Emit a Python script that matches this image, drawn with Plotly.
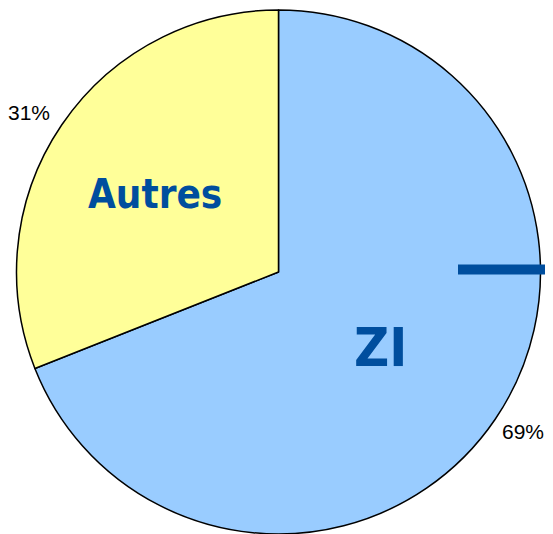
import math
import plotly.graph_objects as go

categories = ["ZI", "Autres"]
values = [69, 31]
colors = ["#99CCFF", "#FFFF99"]

W, H = 553, 534
OFF = 8  # page body margin
VISIBLE_W = W - 2 * OFF  # part of the figure that shows in the window
CX, CY, R = 278.5 - OFF, 272.0 - OFF, 262.0
LABEL_COLOR = "#004E9E"
NARROW = "Liberation Sans Narrow, Arial Narrow, DejaVu Sans Condensed, Arial, sans-serif"

fig = go.Figure(go.Pie(
    labels=categories,
    values=values,
    marker=dict(colors=colors, line=dict(color="black", width=1.5)),
    sort=False,
    direction="clockwise",
    rotation=0,
    textinfo="none",
    hoverinfo="label+percent",
    showlegend=False,
    domain=dict(x=[(CX - R) / W, (CX + R) / W], y=[1 - (CY + R) / H, 1 - (CY - R) / H]),
))

def to_paper(px, py):
    return px / W, 1 - py / H

total = sum(values)
cum = 0.0
inner = {"ZI": (0.47, 54), "Autres": (0.57, 40)}
for cat, v in zip(categories, values):
    mid = (cum + v / 2) / total * 2 * math.pi
    cum += v
    dx, dy = math.sin(mid), -math.cos(mid)
    frac, size = inner[cat]
    x, y = to_paper(CX + dx * R * frac, CY + dy * R * frac)
    fig.add_annotation(x=x, y=y, xref="paper", yref="paper", text=f"<b>{cat}</b>",
                       xanchor="center", yanchor="middle", yshift=-6,
                       showarrow=False, font=dict(family=NARROW, size=size, color=LABEL_COLOR))
    px = min(CX + dx * R * 1.15, VISIBLE_W - 22)
    x, y = to_paper(px, CY + dy * R * 1.08)
    fig.add_annotation(x=x, y=y, xref="paper", yref="paper",
                       xanchor="center", yanchor="middle",
                       text=f"{round(v / total * 100)}%", showarrow=False,
                       font=dict(family="Liberation Sans, Arial, sans-serif", size=21, color="black"))

fig.add_shape(type="line", xref="paper", yref="paper",
              x0=(458 - OFF) / W, x1=1.05, y0=1 - (269.5 - OFF) / H, y1=1 - (269.5 - OFF) / H,
              line=dict(color="#004E9E", width=10))

fig.update_layout(width=W, height=H, margin=dict(l=0, r=0, t=0, b=0),
                  paper_bgcolor="white", plot_bgcolor="white")
fig.write_html("out.html")
